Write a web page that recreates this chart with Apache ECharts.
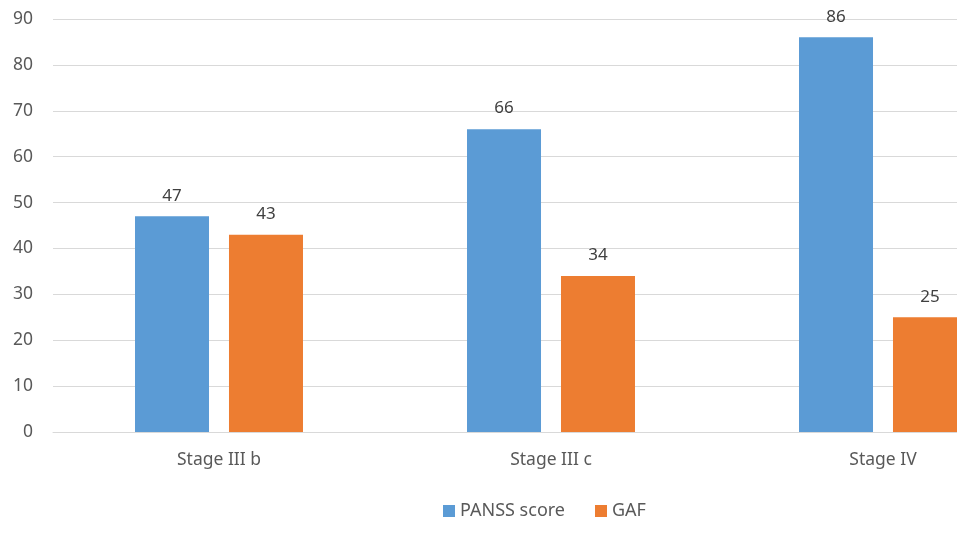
<!DOCTYPE html>
<html>
<head>
<meta charset="utf-8">
<script src="https://cdn.jsdelivr.net/npm/echarts@6/dist/echarts.min.js"></script>
<style>
  html, body { margin: 0; padding: 0; background: #fff; overflow: hidden; }
  /* the original figure is cropped on the right, so the canvas runs past the window */
  #chart { width: 1049px; height: 539px; }
</style>
</head>
<body>
<div id="chart"></div>
<script>
// data
var stages = ['Stage III b', 'Stage III c', 'Stage IV'];
var panss = [47, 66, 86];
var gaf = [43, 34, 25];
var yTicks = { min: 0, max: 90, step: 10 };

var chart = echarts.init(document.getElementById('chart'));
var font = '"Noto Sans", sans-serif';

var labelStyle = {
  show: true,
  position: 'top',
  distance: 12,
  color: '#404040',
  fontSize: 17,
  fontFamily: font
};

chart.setOption({
  animation: false,
  color: ['#5B9BD5', '#ED7D31'],
  legend: {
    left: 438,
    top: 497,
    itemWidth: 12,
    itemHeight: 12,
    itemGap: 30,
    icon: 'rect',
    textStyle: { color: '#595959', fontSize: 18, fontFamily: font },
    data: ['PANSS score', 'GAF']
  },
  grid: {
    left: 53,
    top: 19,
    right: 0,
    height: 413
  },
  xAxis: {
    type: 'category',
    data: stages,
    axisLine: { lineStyle: { color: '#d9d9d9', width: 1 } },
    axisTick: { show: false },
    axisLabel: { color: '#595959', fontSize: 17.5, fontFamily: font, margin: 19 }
  },
  yAxis: {
    type: 'value',
    min: yTicks.min,
    max: yTicks.max,
    interval: yTicks.step,
    axisLine: { show: false },
    axisTick: { show: false },
    axisLabel: { color: '#595959', fontSize: 17.5, fontFamily: font, margin: 20 },
    splitLine: { lineStyle: { color: '#d9d9d9', width: 1 } }
  },
  series: [
    {
      name: 'PANSS score',
      type: 'bar',
      data: panss,
      barWidth: 74,
      barGap: '27%',
      label: labelStyle
    },
    {
      name: 'GAF',
      type: 'bar',
      data: gaf,
      barWidth: 74,
      label: labelStyle
    }
  ]
});
</script>
</body>
</html>
